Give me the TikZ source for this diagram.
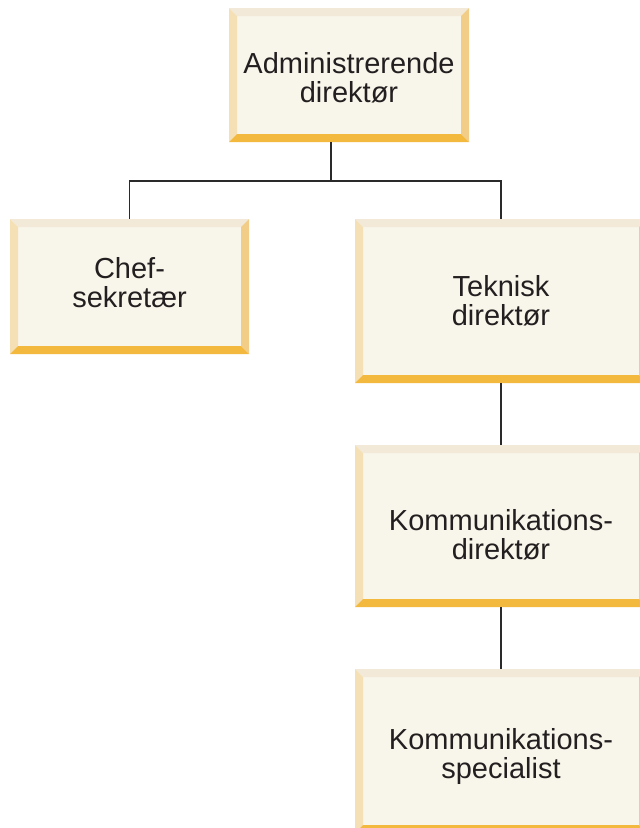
\documentclass[tikz,border=0pt]{standalone}
\usepackage{fontspec}
\setmainfont{Liberation Sans}
\definecolor{boxface}{HTML}{F8F5EA}
\definecolor{beveltop}{HTML}{F2E9D8}
\definecolor{bevelleft}{HTML}{F5E0B6}
\definecolor{bevelright}{HTML}{F2CD88}
\definecolor{bevelbottom}{HTML}{F3B93F}
\definecolor{linkcol}{HTML}{2A2A2A}
\definecolor{txtcol}{HTML}{231F20}
\tikzset{
  orgbox/.style={
    rectangle, inner sep=0pt, outer sep=0pt, fill=boxface,
    path picture={
      \def\bw{8pt}
      \fill[beveltop] (path picture bounding box.north west) -- (path picture bounding box.north east)
        -- ([shift={(-\bw,-\bw)}]path picture bounding box.north east)
        -- ([shift={(\bw,-\bw)}]path picture bounding box.north west) -- cycle;
      \fill[bevelleft] (path picture bounding box.north west)
        -- ([shift={(\bw,-\bw)}]path picture bounding box.north west)
        -- ([shift={(\bw,\bw)}]path picture bounding box.south west)
        -- (path picture bounding box.south west) -- cycle;
      \fill[bevelright] (path picture bounding box.north east)
        -- (path picture bounding box.south east)
        -- ([shift={(-\bw,\bw)}]path picture bounding box.south east)
        -- ([shift={(-\bw,-\bw)}]path picture bounding box.north east) -- cycle;
      \fill[bevelbottom] (path picture bounding box.south west)
        -- (path picture bounding box.south east)
        -- ([shift={(-\bw,\bw)}]path picture bounding box.south east)
        -- ([shift={(\bw,\bw)}]path picture bounding box.south west) -- cycle;
    }
  },
  boxtext/.style={align=center, text=txtcol, inner sep=0pt,
    font=\fontsize{29}{29}\selectfont},
  link/.style={draw=linkcol, line width=1.6pt}
}
\begin{document}
\begin{tikzpicture}[x=1pt, y=-1pt]
  \useasboundingbox (0,0) rectangle (640,828);
  \clip (0,0) rectangle (640,828);

  % boxes
  \node[orgbox, minimum width=240pt, minimum height=134pt] (ceo) at (349,75) {};
  \node[orgbox, minimum width=239pt, minimum height=135pt] (sec) at (129.5,286.5) {};
  \node[orgbox, minimum width=292pt, minimum height=164pt] (cto) at (501,301) {};
  \node[orgbox, minimum width=292pt, minimum height=162pt] (ccd) at (501,526) {};
  \node[orgbox, minimum width=292pt, minimum height=164pt] (spc) at (501,751) {};

  % box titles
  \node[boxtext, yshift=-2.5pt] (ceo-t) at (ceo.center) {Administrerende\\direktør};
  \node[boxtext, yshift=4pt] (sec-t) at (sec.center) {Chef-\\sekretær};
  \node[boxtext] (cto-t) at (cto.center) {Teknisk\\direktør};
  \node[boxtext, yshift=-9pt] (ccd-t) at (ccd.center) {Kommunikations-\\direktør};
  \node[boxtext, yshift=-5pt] (spc-t) at (spc.center) {Kommunikations-\\specialist};

  % connectors
  \coordinate (split) at (331,181);
  \draw[link] (ceo.south -| split) -- (split);
  \draw[link] (split) -| (sec.north);
  \draw[link] (split) -| (cto.north);
  \draw[link] (cto.south) -- (ccd.north);
  \draw[link] (ccd.south) -- (spc.north);
\end{tikzpicture}
\end{document}
